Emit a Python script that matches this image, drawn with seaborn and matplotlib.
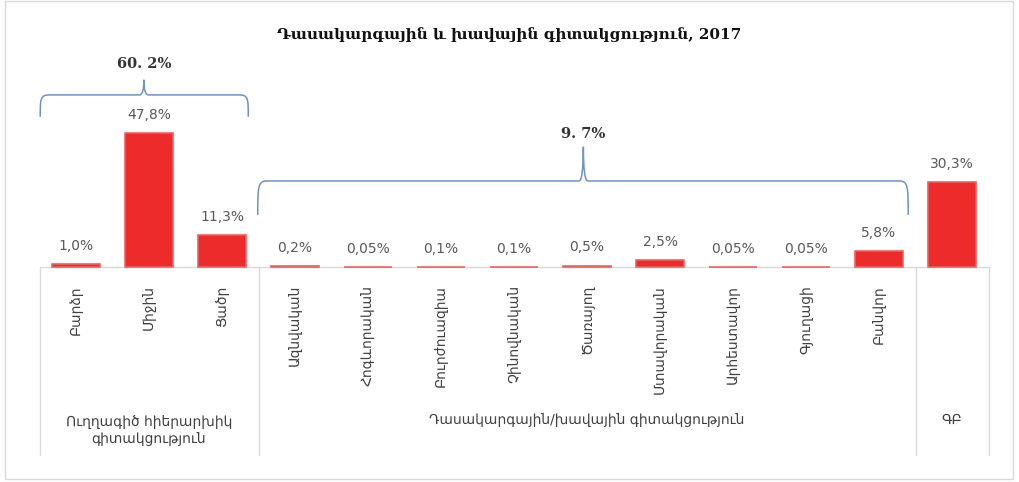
import numpy as np
import pandas as pd
import matplotlib
matplotlib.use("Agg")
import matplotlib.pyplot as plt
import matplotlib.transforms as mtrans
from matplotlib.path import Path
from matplotlib.patches import PathPatch, Rectangle
import seaborn as sns

sns.set_theme(style="white")
plt.rcParams["font.family"] = ["DejaVu Sans"]

TITLE = "Դասակարգային և խավային գիտակցություն, 2017"
categories = ["Բարձր", "Միջին", "Ցածր", "Ազնվական", "Հոգևորական", "Բուրժուազիա",
              "Չինովնական", "Ծառայող", "Մտավորական", "Արհեստավոր", "Գյուղացի",
              "Բանվոր", ""]
values = [1.0, 47.8, 11.3, 0.2, 0.05, 0.1, 0.1, 0.5, 2.5, 0.05, 0.05, 5.8, 30.3]
value_labels = ["1,0%", "47,8%", "11,3%", "0,2%", "0,05%", "0,1%", "0,1%", "0,5%",
                "2,5%", "0,05%", "0,05%", "5,8%", "30,3%"]
groups = ["Ուղղագիծ հիերարխիկ\nգիտակցություն",
          "Դասակարգային/խավային գիտակցություն", "ԳԲ"]
group_bounds = [(-0.5, 2.5), (2.5, 11.5), (11.5, 12.5)]
group_totals = ["60. 2%", "9. 7%"]

RED = "#EE2B2B"
BLUE = "#6C93C4"
GRAY = "#595959"

df = pd.DataFrame({"cat": [str(i) for i in range(len(values))], "val": values})

fig = plt.figure(figsize=(10.19, 4.82), dpi=100)
ax = fig.add_axes([39.5 / 1019, 215 / 482, 949 / 1019, 227 / 482])
sns.barplot(data=df, x="cat", y="val", color=RED, width=0.66, saturation=1,
            edgecolor="#F06060", linewidth=1.2, ax=ax, zorder=3, errorbar=None)
for p in ax.patches:
    p.set_clip_on(False)
ax.set_xlim(-0.5, 12.5)
ax.set_ylim(0, 81)
for s in ax.spines.values():
    s.set_visible(False)
ax.set_yticks([])
ax.set_xlabel(""); ax.set_ylabel("")
ax.set_xticks(range(len(categories)))
ax.set_xticklabels(categories, rotation=90, fontsize=10, color="#404040", va="top")
ax.tick_params(axis="x", length=0, pad=13)

for i, (v, lab) in enumerate(zip(values, value_labels)):
    ax.annotate(lab, (i, v), xytext=(0, 8), textcoords="offset points",
                ha="center", va="bottom", fontsize=10, color=GRAY)

# category table lines
ax.axhline(0, xmin=0, xmax=1, color="#D9D9D9", lw=1, clip_on=False, zorder=0)
tr = mtrans.blended_transform_factory(ax.transData, ax.transAxes)
for xb in [-0.5, 2.5, 11.5, 12.5]:
    ax.plot([xb, xb], [0, -0.83], transform=tr, color="#D9D9D9", lw=1, clip_on=False)
for (a, b), g in zip(group_bounds, groups):
    yy = -0.72 if "\n" in g else -0.675
    ax.text((a + b) / 2, yy, g, transform=tr, ha="center", va="center",
            fontsize=10, color="#404040", linespacing=1.3)

def brace(x0, x1, xm, yb, ye, yt):
    r = 0.12
    verts = [(x0, ye), (x0, yb - 0.2 * (yb - ye)), (x0, yb), (x0 + r, yb),
             (xm - r * 0.5, yb), (xm, yb), (xm, yt),
             (xm, yb), (xm + r * 0.5, yb),
             (x1 - r, yb), (x1, yb), (x1, yb - 0.2 * (yb - ye)), (x1, ye)]
    codes = [Path.MOVETO, Path.CURVE4, Path.CURVE4, Path.CURVE4,
             Path.LINETO, Path.CURVE3, Path.CURVE3,
             Path.CURVE3, Path.CURVE3,
             Path.LINETO, Path.CURVE4, Path.CURVE4, Path.CURVE4]
    ax.add_patch(PathPatch(Path(verts, codes), fill=False, edgecolor=BLUE,
                           lw=1.1, clip_on=False))

brace(-0.49, 2.36, 0.93, 61.4, 53.6, 66.8)
brace(2.49, 11.4, 6.95, 30.7, 18.6, 42.9)
ax.text(0.93, 72.3, group_totals[0], ha="center", va="center", fontsize=10.5,
        fontweight="bold", color="#333333", family=["DejaVu Serif", "DejaVu Sans"])
ax.text(6.95, 47.3, group_totals[1], ha="center", va="center", fontsize=10.5,
        fontweight="bold", color="#333333", family=["DejaVu Serif", "DejaVu Sans"])

fig.text(0.5, 1 - 35 / 482, TITLE, ha="center", va="center", fontsize=11,
         fontweight="bold", color="#111111", family=["DejaVu Serif", "DejaVu Sans"])
fig.patches.append(Rectangle((5 / 1019, 3 / 482), 1008 / 1019, 478 / 482,
                             transform=fig.transFigure, fill=False,
                             edgecolor="#D9D9D9", lw=1))

fig.savefig("out.png", dpi=100)
